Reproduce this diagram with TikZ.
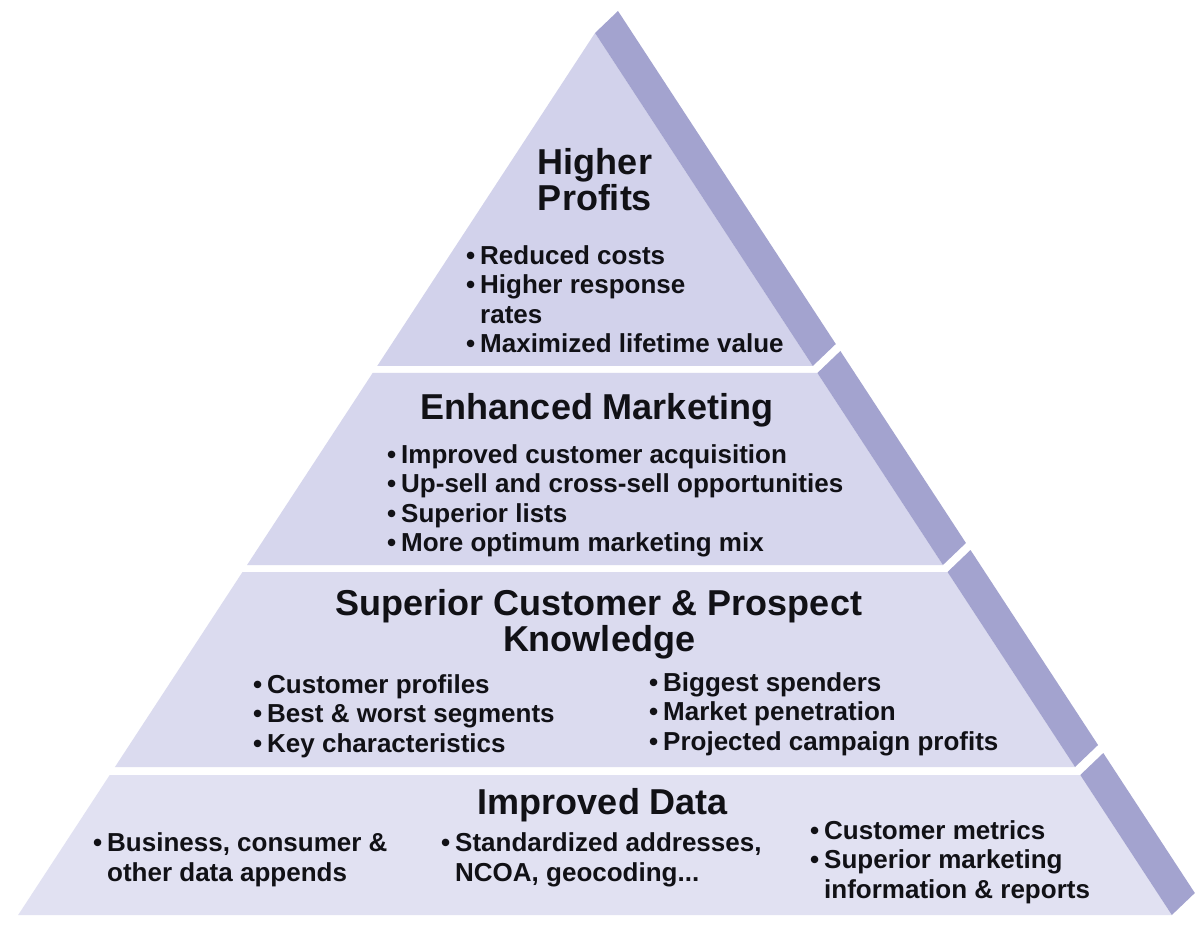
\documentclass[tikz,border=0pt]{standalone}
\usepackage{fontspec}
\setmainfont{Liberation Sans}
\usepackage{xcolor}
\usetikzlibrary{positioning,calc}
\definecolor{frontA}{RGB}{210,210,235}
\definecolor{frontB}{RGB}{214,214,237}
\definecolor{frontC}{RGB}{219,219,239}
\definecolor{frontD}{RGB}{225,225,242}
\definecolor{sideface}{RGB}{163,163,207}
\definecolor{ink}{RGB}{17,17,22}
% edges of the front face at height #1
\newcommand{\xl}[1]{595-0.654*(#1-33)}
\newcommand{\xr}[1]{595+0.654*(#1-33)}
% one layer: top, bottom, front colour
\newcommand{\layer}[3]{%
  \fill[#3] ({\xl{#1}},#1) -- ({\xr{#1}},#1) -- ({\xr{#2}},#2) -- ({\xl{#2}},#2) -- cycle;
  \fill[sideface] ({\xr{#1}},#1) -- ({\xr{#2}},#2) -- ++(23,-22) -- ({\xr{#1}+23},#1-22) -- cycle;}
\newcommand{\itm}{\makebox[14pt][l]{\textbullet}}
\newcommand{\hang}{\hspace*{14pt}}

\begin{document}
\begin{tikzpicture}[x=1pt, y=-1pt,
  title/.style={font=\bfseries\fontsize{36}{36}\selectfont, text=ink, align=center, inner sep=0pt},
  list/.style={font=\bfseries\fontsize{26}{29.5}\selectfont, text=ink, align=left, inner sep=0pt, anchor=west},
]
\useasboundingbox[fill=white] (0,0) rectangle (1200,933);
\layer{33}{366}{frontA}
\layer{373}{565}{frontB}
\layer{572}{767}{frontC}
\layer{775}{915}{frontD}
% top
\node[title] (profits) at (595,180) {Higher\\Profits};
\node[list] (profitslist) at (466,299)
  {\itm Reduced costs\\\itm Higher response\\\hang rates\\\itm Maximized lifetime value};
% second
\node[title, anchor=base] (marketing) at (597,420) {Enhanced Marketing};
\node[list] (marketinglist) at (387,501)
  {\itm Improved customer acquisition\\\itm Up-sell and cross-sell opportunities\\\itm Superior lists\\\itm More optimum marketing mix};
% third
\node[title] (knowledge) at (599,624) {Superior Customer \& Prospect\\Knowledge};
\node[list] (knowleft) at (253,716)
  {\itm Customer profiles\\\itm Best \& worst segments\\\itm Key characteristics};
\node[list] (knowright) at (649,714)
  {\itm Biggest spenders\\\itm Market penetration\\\itm Projected campaign profits};
% base
\node[title, anchor=base] (data) at (603,814) {Improved Data};
\node[list] (dataleft) at (93,860)
  {\itm Business, consumer \&\\\hang other data appends};
\node[list] (datamid) at (441,860)
  {\itm Standardized addresses,\\\hang NCOA, geocoding...};
\node[list] (dataright) at (810,862)
  {\itm Customer metrics\\\itm Superior marketing\\\hang information \& reports};
\end{tikzpicture}
\end{document}
